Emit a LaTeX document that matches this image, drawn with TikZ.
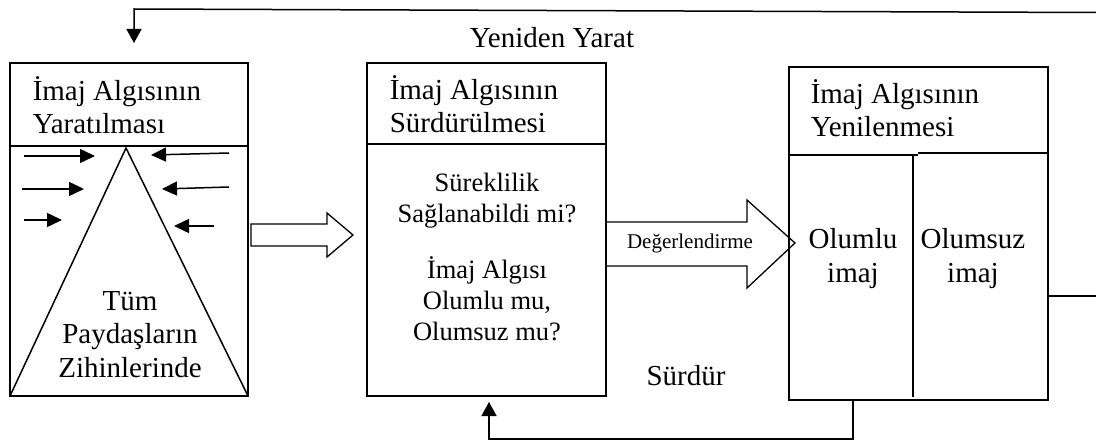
\documentclass[tikz,border=0pt]{standalone}
\usepackage{fontspec}
\setmainfont{Liberation Serif}
\usetikzlibrary{arrows.meta}

\begin{document}
\begin{tikzpicture}[x=1pt, y=-1pt, line width=1.5pt,
  box/.style={draw, rectangle, anchor=north west, inner sep=0pt, outer sep=0pt},
  big/.style={font=\fontsize{29}{33.5}\selectfont, inner sep=0pt},
  mid/.style={font=\fontsize{26.5}{31}\selectfont, inner sep=0pt},
  small/.style={font=\fontsize{21}{24}\selectfont, inner sep=0pt},
  tip/.style={-{Triangle[length=14pt,width=15pt]}},
  smalltip/.style={-{Triangle[length=15pt,width=14pt]}}]
\useasboundingbox (0,0) rectangle (1096,441);

% three stages
\node[box, minimum width=238pt, minimum height=333pt] (b1) at (10,63) {};
\node[box, minimum width=239pt, minimum height=333pt] (b2) at (367,63) {};
\node[box, minimum width=259pt, minimum height=333pt] (b3) at (789,67) {};

% header separators
\draw (b1.west |- 0,146) -- (b1.east |- 0,146);
\draw (b2.west |- 0,144) -- (b2.east |- 0,144);
\draw (b3.west |- 0,155) -- (918,155);
\draw (918,153) -- (b3.east |- 0,153);
\draw (913,155) -- (913,397);

% headers (anchored at the baseline of their last line)
\node[big, anchor=base west, align=left] (t1) at (32,134) {İmaj Algısının\\Yaratılması};
\node[big, anchor=base west, align=left] (t2) at (389,133) {İmaj Algısının\\Sürdürülmesi};
\node[big, anchor=base west, align=left] (t3) at (810,137) {İmaj Algısının\\Yenilenmesi};

% triangle of stakeholders
\draw (b1.south west) -- (126,148) -- (b1.south east);
\node[big, anchor=base, align=center] (c1) at (130,377) {Tüm\\Paydaşların\\Zihinlerinde};

% pressure arrows
\draw[smalltip] (24,156) -- (95,156);
\draw[smalltip] (22,189) -- (84,189);
\draw[smalltip] (24,220) -- (62,220);
\draw[smalltip] (229,153) -- (151,155);
\draw[smalltip] (229,187) -- (162,189);
\draw[smalltip] (214,226) -- (174,226);

% questions
\node[mid, anchor=base, align=center] (c2) at (487,340)
  {Süreklilik\\Sağlanabildi mi?\\[25pt]İmaj Algısı\\Olumlu mu,\\Olumsuz mu?};

% outcomes
\node[big, anchor=base, align=center] (pos) at (853,282) {Olumlu\\imaj};
\node[big, anchor=base, align=center] (neg) at (973,282) {Olumsuz\\imaj};

% block arrows
\draw[line width=1.3pt] (251,224) -- (327,224) -- (327,213) -- (353,235)
  -- (327,257) -- (327,246) -- (251,246) -- cycle;
\draw[line width=1.3pt] (b2.east |- 0,222) -- (747,222) -- (747,200) -- (795,243)
  -- (747,288) -- (747,266) -- (b2.east |- 0,266);
\node[small, anchor=base] (eval) at (690,248) {Değerlendirme};

% feedback loops
\node[big, anchor=base] (re) at (552,48) {Yeniden Yarat};
\node[big, anchor=base] (keep) at (686,385) {Sürdür};

\coordinate (topR) at (1096,12.5);
\coordinate (topL) at (134,9);
\coordinate (topTip) at (134,43);
\draw[tip] (topR) -- (topL) -- (topTip);

\coordinate (sideR) at (1096,296);
\draw (b3.east |- sideR) -- (sideR);

\coordinate (botR) at (853,439);
\coordinate (botL) at (489,439);
\coordinate (botTip) at (489,402);
\draw[tip] (b3.south -| botR) -- (botR) -- (botL) -- (botTip);
\end{tikzpicture}
\end{document}
